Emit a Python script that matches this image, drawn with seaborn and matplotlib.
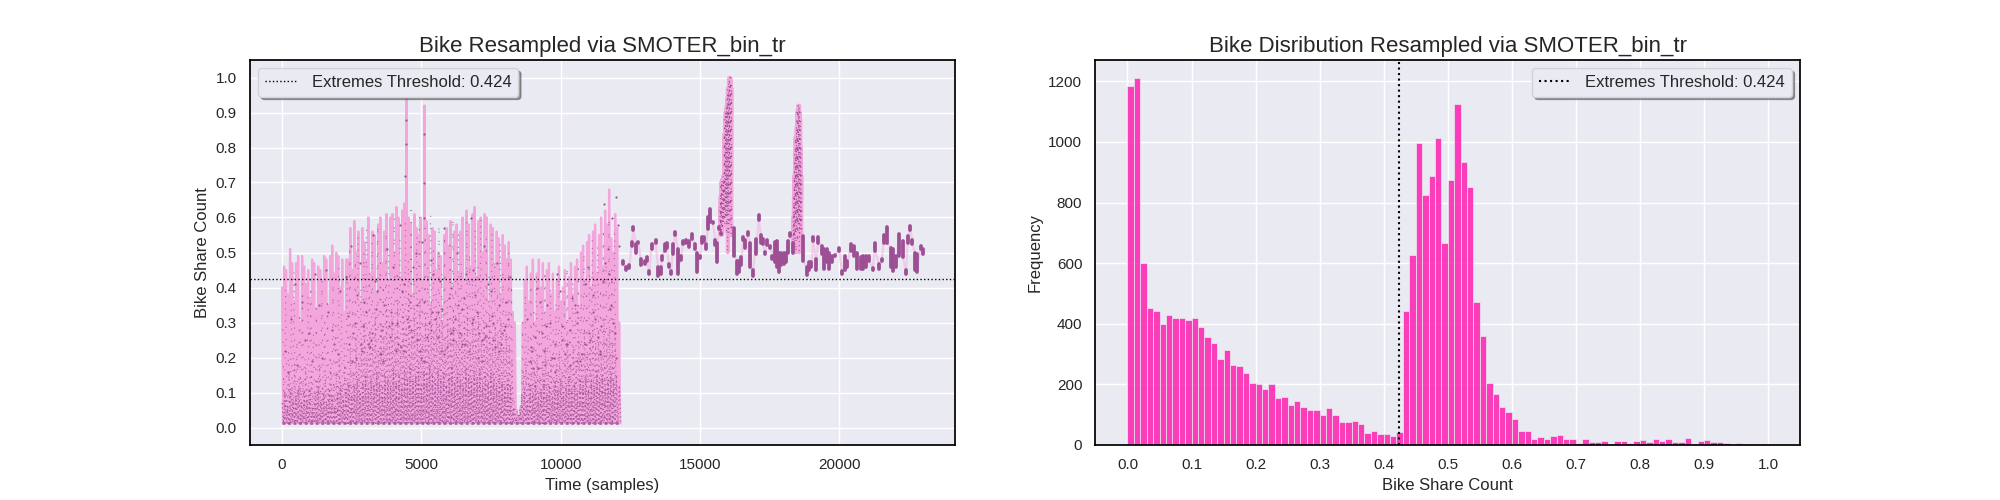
import numpy as np
import seaborn as sns
import matplotlib.pyplot as plt

# values
threshold = 0.424
# top of each bike share cycle, one per 72 samples
peak_share = [.40,.46,.45,.38,.51,.47,.36,.47,.49,.30,.49,.46,.41,.45,.37,.48,.47,.34,.46,.45,.42,.49,.48,.35,.49,.52,.44,.50,.49,.40,.48,
              .33,.48,.48,.57,.45,.59,.50,.56,.36,.57,.53,.48,.60,.44,.56,.55,.38,.58,.60,.47,.56,.61,.42,.60,.61,.50,.63,.60,.43,.62,.64,
              .94,.60,.58,.38,.61,.57,.55,.60,.42,.92,.59,.55,.35,.57,.56,.45,.50,.49,.30,.55,.57,.52,.59,.40,.56,.58,.44,.56,.60,.42,
              .62,.58,.46,.61,.63,.43,.59,.60,.50,.61,.60,.36,.58,.57,.46,.56,.54,.38,.55,.52,.48,.53,.48,
              .33,.30,.05,.03,.06,.30,
              .42,.46,.36,.44,.48,.30,.44,.48,.40,.47,.32,.45,.47,.38,.44,.33,.42,.46,.36,.40,.45,.30,.43,.47,.38,.46,.48,.34,.50,.52,
              .42,.53,.55,.40,.56,.58,.44,.55,.60,.46,.62,.58,.68,.54,.50,.61,.57,.30]
# dense low band, one per 100 samples
low_share = [.07,.10,.06,.11,.08,.09,.12,.07,.10,.08,.11,.06,.09,.12,.08,.10,.07,.11,.09,.06,.10,.12,.08,.11,.13,.09,.12,.14,.10,.13,
             .15,.11,.14,.12,.16,.13,.11,.15,.14,.12,.17,.13,.15,.12,.16,.14,.18,.13,.15,.17,.12,.16,.14,.18,.15,.13,.17,.14,.16,.12,
             .15,.18,.13,.16,.14,.12,.17,.15,.13,.16,.14,.17,.12,.15,.13,.16,.14,.12,.15,.13,.11,.14,.12,.05,.03,.04,.09,.11,.08,.12,
             .10,.13,.09,.11,.14,.10,.12,.09,.13,.11,.14,.10,.12,.15,.11,.13,.10,.14,.12,.15,.11,.14,.12,.16,.13,.15,.12,.14,.16,.13,.15,.12]
mid_share = [.14,.10,.16,.12,.18,.11,.15,.13,.17,.12,.16,.10,.14,.18,.12,.15,.11,.17,.13,.16,.20,.12,.18,.14,.22,.16,.26,.19,.24,.30,
             .21,.28,.24,.32,.22,.30,.26,.35,.25,.31,.27,.36,.24,.33,.28,.38,.26,.34,.30,.37,.25,.32,.28,.36,.27,.33,.30,.35,.26,.31,
             .29,.34,.25,.33,.27,.30,.35,.24,.31,.28,.33,.25,.30,.27,.32,.24,.29,.26,.31,.23,.27,.24,.20,.06,.04,.05,.16,.19,.14,.20,
             .17,.21,.15,.19,.23,.16,.20,.14,.18,.22,.16,.20,.25,.18,.23,.19,.26,.21,.28,.22,.25,.30,.24,.28,.22,.31,.26,.29,.24,.30]
high_share = [.28,.40,.22,.36,.45,.25,.33,.41,.20,.38,.44,.27,.34,.24,.42,.30,.37,.21,.43,.29,.46,.33,.25,.44,.52,.36,.48,.55,.40,.50,
              .57,.44,.53,.35,.58,.47,.41,.56,.50,.38,.60,.45,.54,.42,.59,.48,.62,.43,.55,.60,.40,.57,.46,.61,.51,.39,.58,.44,.55,.37,
              .52,.60,.42,.56,.47,.38,.59,.50,.43,.57,.46,.60,.40,.54,.44,.56,.48,.39,.53,.45,.36,.50,.41,.08,.05,.06,.30,.38,.27,.41,
              .33,.44,.29,.37,.45,.31,.40,.28,.36,.43,.30,.39,.46,.33,.42,.35,.47,.38,.50,.41,.46,.54,.43,.52,.40,.57,.47,.60,.45,.56]
floor_time = [0, 12150]
floor_share = [.012, .012]
# single dots above the band
dot_time = [120,310,540,700,950,1180,1420,1660,1880,2080,230,480,820,1090,1330,1570,1790,2010,2300,2460,
            2620,2780,2950,3100,3270,3420,3600,3750,3910,4080,4230,4390,4550,4700,4860,5020,5190,5340,5500,5650,
            5820,5980,6130,6290,6450,6600,6770,6930,7080,7240,7400,7560,7710,7870,8030,8190,2350,2540,2700,2860,
            3020,3190,3340,3510,3660,3830,3990,4150,4310,4470,4640,4790,4950,5110,5270,5430,5590,5750,5910,6060,
            6220,6380,6540,6700,6850,7010,7170,7330,7490,7650,7800,7960,8120,2420,2660,2890,3140,3380,3630,3870,
            4120,4360,4600,4850,5090,5330,5580,5820,6070,6310,6550,6800,7040,7280,7530,7770,8010,2500,2820,3220,
            3560,3960,4280,4680,5000,5380,5720,6120,6460,6840,7180,7580,7900,8800,8980,9160,9340,9520,9700,9880,
            10060,10240,10420,10600,10780,10960,11140,11320,11500,11680,11860,12040,8880,9060,9240,9420,9600,9780,9960,10140,
            10320,10500,10680,10860,11040,11220,11400,11580,11760,11940,8920,9200,9480,9760,10040,10320,10600,10880,11160,11440,
            11720,12000,9000,9400,9800,10200,10600,11000,11400,11800,4450,4420,4440,5090,5100,5095,11560,11850,11980,12100]
dot_share = [.22,.31,.18,.36,.27,.44,.20,.33,.24,.39,.16,.41,.25,.19,.35,.45,.28,.21,.43,.52,
             .30,.47,.36,.24,.55,.39,.28,.51,.33,.22,.58,.41,.29,.46,.35,.53,.26,.48,.31,.42,
             .57,.37,.25,.50,.34,.44,.60,.38,.27,.52,.41,.30,.47,.24,.36,.43,.32,.27,.38,.22,
             .33,.25,.42,.21,.35,.29,.46,.24,.39,.31,.28,.50,.22,.36,.30,.44,.26,.34,.23,.40,
             .31,.27,.37,.22,.45,.33,.25,.29,.39,.23,.35,.28,.31,.24,.20,.29,.23,.34,.19,.26,
             .30,.22,.36,.25,.19,.28,.33,.21,.27,.35,.24,.30,.20,.26,.32,.22,.29,.19,.24,.27,
             .21,.30,.23,.26,.20,.33,.22,.28,.24,.31,.19,.25,.27,.31,.22,.40,.27,.35,.20,.44,
             .29,.24,.37,.30,.21,.46,.33,.26,.42,.51,.30,.58,.19,.26,.36,.18,.30,.24,.39,.21,
             .28,.35,.19,.41,.25,.31,.22,.47,.34,.27,.23,.17,.29,.20,.25,.18,.33,.24,.38,.29,
             .44,.20,.17,.22,.16,.24,.19,.27,.21,.35,.88,.72,.81,.84,.70,.60,.64,.60,.66,.52]
# resampled clusters after sample 12200
blob_time = [12225,12345,12465,12550,12610,12700,12785,12870,13025,13085,13170,13265,13400,13495,13590,13635,13745,13805,13875,13960,
             14030,14115,14200,14305,14400,14500,14595,14700,14820,14905,15000,15060,15145,15215,15300,15370,15455,15550,15600,15680,
             15765,16220,16340,16410,16470,16555,16625,16710,16795,16890,17010,17105,17175,17250,17330,17415,17510,17585,17680,17750,
             17835,17920,18015,18085,18155,18240,18325,18710,18825,18925,18995,19065,19150,19245,19365,19450,19545,19640,19725,19845,
             20000,20085,20205,20285,20405,20525,20645,20775,20860,20955,21050,21195,21280,21420,21520,21600,21700,21840,21935,22030,
             22150,22270,22390,22450,22535,22620,22715,22775,22920,22990]
blob_top = [.477,.460,.463,.530,.574,.523,.530,.481,.477,.486,.446,.523,.537,.458,.460,.489,.523,.528,.468,.447,
            .523,.558,.511,.491,.532,.537,.532,.553,.523,.500,.491,.544,.544,.523,.602,.625,.588,.535,.528,.574,
            .556,.569,.477,.477,.486,.544,.535,.558,.528,.451,.539,.606,.551,.539,.502,.537,.519,.491,.530,.532,
            .500,.498,.498,.498,.532,.557,.528,.546,.458,.472,.472,.544,.481,.544,.519,.509,.509,.500,.491,.493,
            .514,.446,.491,.477,.523,.519,.500,.486,.491,.491,.491,.456,.528,.468,.481,.551,.572,.514,.509,.491,
            .554,.532,.449,.548,.576,.535,.500,.495,.520,.511]
blob_bottom = [.466,.451,.456,.519,.565,.500,.528,.465,.468,.477,.440,.509,.528,.433,.440,.480,.505,.514,.458,.439,
               .495,.551,.440,.480,.523,.526,.517,.539,.509,.443,.483,.526,.532,.511,.567,.588,.585,.521,.472,.567,
               .553,.491,.440,.444,.463,.537,.514,.551,.458,.433,.495,.593,.528,.523,.495,.521,.514,.481,.472,.458,
               .443,.463,.468,.472,.500,.546,.500,.477,.435,.449,.458,.532,.449,.526,.495,.454,.472,.454,.472,.489,
               .505,.439,.449,.458,.505,.491,.454,.454,.454,.458,.477,.449,.505,.454,.475,.528,.528,.458,.446,.458,
               .491,.486,.439,.528,.565,.523,.449,.444,.511,.495]
tower1_time = [15710,15730,15750,15770,15790,15810,15830,15850,15870,15890,15910,15930,15950,15970,15990,16010,16030,16050,16070,16090,16110,16130]
tower1_top = [.62,.66,.70,.70,.71,.69,.72,.71,.84,.88,.90,.91,.92,.94,.97,.96,.99,1.0,.98,1.0,.99,.97]
tower1_bottom = [.56,.55,.55,.56,.55,.57,.58,.60,.60,.58,.60,.62,.56,.60,.50,.62,.55,.72,.58,.62,.55,.55]
tower2_time = [18340,18360,18380,18400,18420,18440,18460,18480,18500,18520,18540,18560,18580,18600,18620,18640]
tower2_top = [.60,.66,.72,.78,.83,.82,.86,.90,.91,.92,.91,.92,.90,.88,.80,.72]
tower2_bottom = [.53,.54,.53,.52,.55,.50,.56,.58,.53,.56,.60,.50,.55,.58,.56,.55]
# histogram counts, one per 0.01 of bike share
bin_counts = [1185,1210,601,453,443,400,430,420,420,413,420,390,358,338,285,312,265,262,239,206,
              202,186,202,156,159,133,146,126,116,116,99,123,99,76,76,80,70,40,46,36,
              36,30,43,441,626,998,825,888,1014,666,875,1124,935,852,471,361,206,169,126,109,
              86,46,46,20,27,20,30,33,20,20,7,20,10,10,13,4,13,13,7,13,
              17,10,20,13,20,10,10,23,4,13,17,10,10,7,0,7,4,4,1,4]

sns.set_theme(style="darkgrid", rc={"axes.edgecolor": "black", "axes.linewidth": 1.25})
plt.rcParams['font.family'] = ['Liberation Sans', 'DejaVu Sans']

fig, (ax1, ax2) = plt.subplots(1, 2, figsize=(20, 5), dpi=100)

pink = '#f3a6dc'
purple = '#9c4f93'


def zigzag(xa, xb, top, bottom):
    # one down stroke per value, read in drawing order
    return np.column_stack([xa, xb]).ravel(), np.column_stack([top, bottom]).ravel()


# each cycle goes down to the floor
cycle_x = np.arange(len(peak_share)) * 72
zig_x, zig_y = zigzag(cycle_x, cycle_x + 36, peak_share, np.full(len(peak_share), .012))
sns.lineplot(x=zig_x, y=zig_y, estimator=None, sort=False, color=pink, lw=1.65, ax=ax1)

# stipple of the dense samples
for vals, off, a, dash, w in [(high_share, 30, .8, (1, 10), .8), (mid_share, 50, .7, (1, 4), .8), (low_share, 0, .8, (1, 2.4), .9)]:
    band_x = np.arange(len(vals)) * 100 + off
    xs, ys = zigzag(band_x, band_x + 50, vals, np.full(len(vals), .012))
    sns.lineplot(x=xs, y=ys, estimator=None, sort=False, color=purple, lw=w, ls=(0, dash), alpha=a, ax=ax1)
sns.lineplot(x=floor_time, y=floor_share, estimator=None, color=purple, lw=2, ls=(0, (1, 1)), alpha=.8, ax=ax1)
sns.scatterplot(x=dot_time, y=dot_share, color=purple, s=2.5, linewidth=0, zorder=3, ax=ax1)

# resampled part
xs, ys = zigzag(blob_time, blob_time, blob_top, blob_bottom)
sns.lineplot(x=xs, y=ys, estimator=None, sort=False, color='#f2b4e0', lw=1.6, alpha=.55, ax=ax1)
ax1.vlines(blob_time, blob_bottom, blob_top, color=purple, lw=2.7, zorder=3, capstyle='round')
for t, top, bottom in [(tower1_time, tower1_top, tower1_bottom), (tower2_time, tower2_top, tower2_bottom)]:
    xs, ys = zigzag(t, t, top, bottom)
    sns.lineplot(x=xs, y=ys, estimator=None, sort=False, color=pink, lw=2.6, ax=ax1)
    sns.lineplot(x=xs, y=ys, estimator=None, sort=False, color=purple, lw=.8, ls=(0, (1, 7)), ax=ax1)

ax1.axhline(threshold, color='black', ls=':', lw=1, zorder=5, label=f'Extremes Threshold: {threshold}')
ax1.set_xlim(-1150, 24130)
ax1.set_ylim(-.05, 1.05)
ax1.set_yticks(np.arange(0, 1.01, .1))
ax1.set_title('Bike Resampled via SMOTER_bin_tr', fontsize=16)
ax1.set_xlabel('Time (samples)', fontsize=12)
ax1.set_ylabel('Bike Share Count', fontsize=12)
ax1.legend(loc='upper left', fancybox=True, shadow=True, fontsize=12, edgecolor='lightgray')

bin_mid = np.arange(len(bin_counts)) / 100 + .005
sns.histplot(x=bin_mid, weights=bin_counts, bins=100, binrange=(0, 1), color='#ff1fb0', alpha=.85,
             edgecolor='#eaeaf2', linewidth=.5, ax=ax2)
ax2.axvline(threshold, color='black', ls=':', lw=1.5, label=f'Extremes Threshold: {threshold}')
ax2.set_xlim(-.05, 1.05)
ax2.set_xticks(np.arange(0, 1.01, .1))
ax2.set_title('Bike Disribution Resampled via SMOTER_bin_tr', fontsize=16)
ax2.set_xlabel('Bike Share Count', fontsize=12)
ax2.set_ylabel('Frequency', fontsize=12)
ax2.legend(loc='upper right', fancybox=True, shadow=True, fontsize=12, edgecolor='lightgray')

plt.savefig('out.png')
